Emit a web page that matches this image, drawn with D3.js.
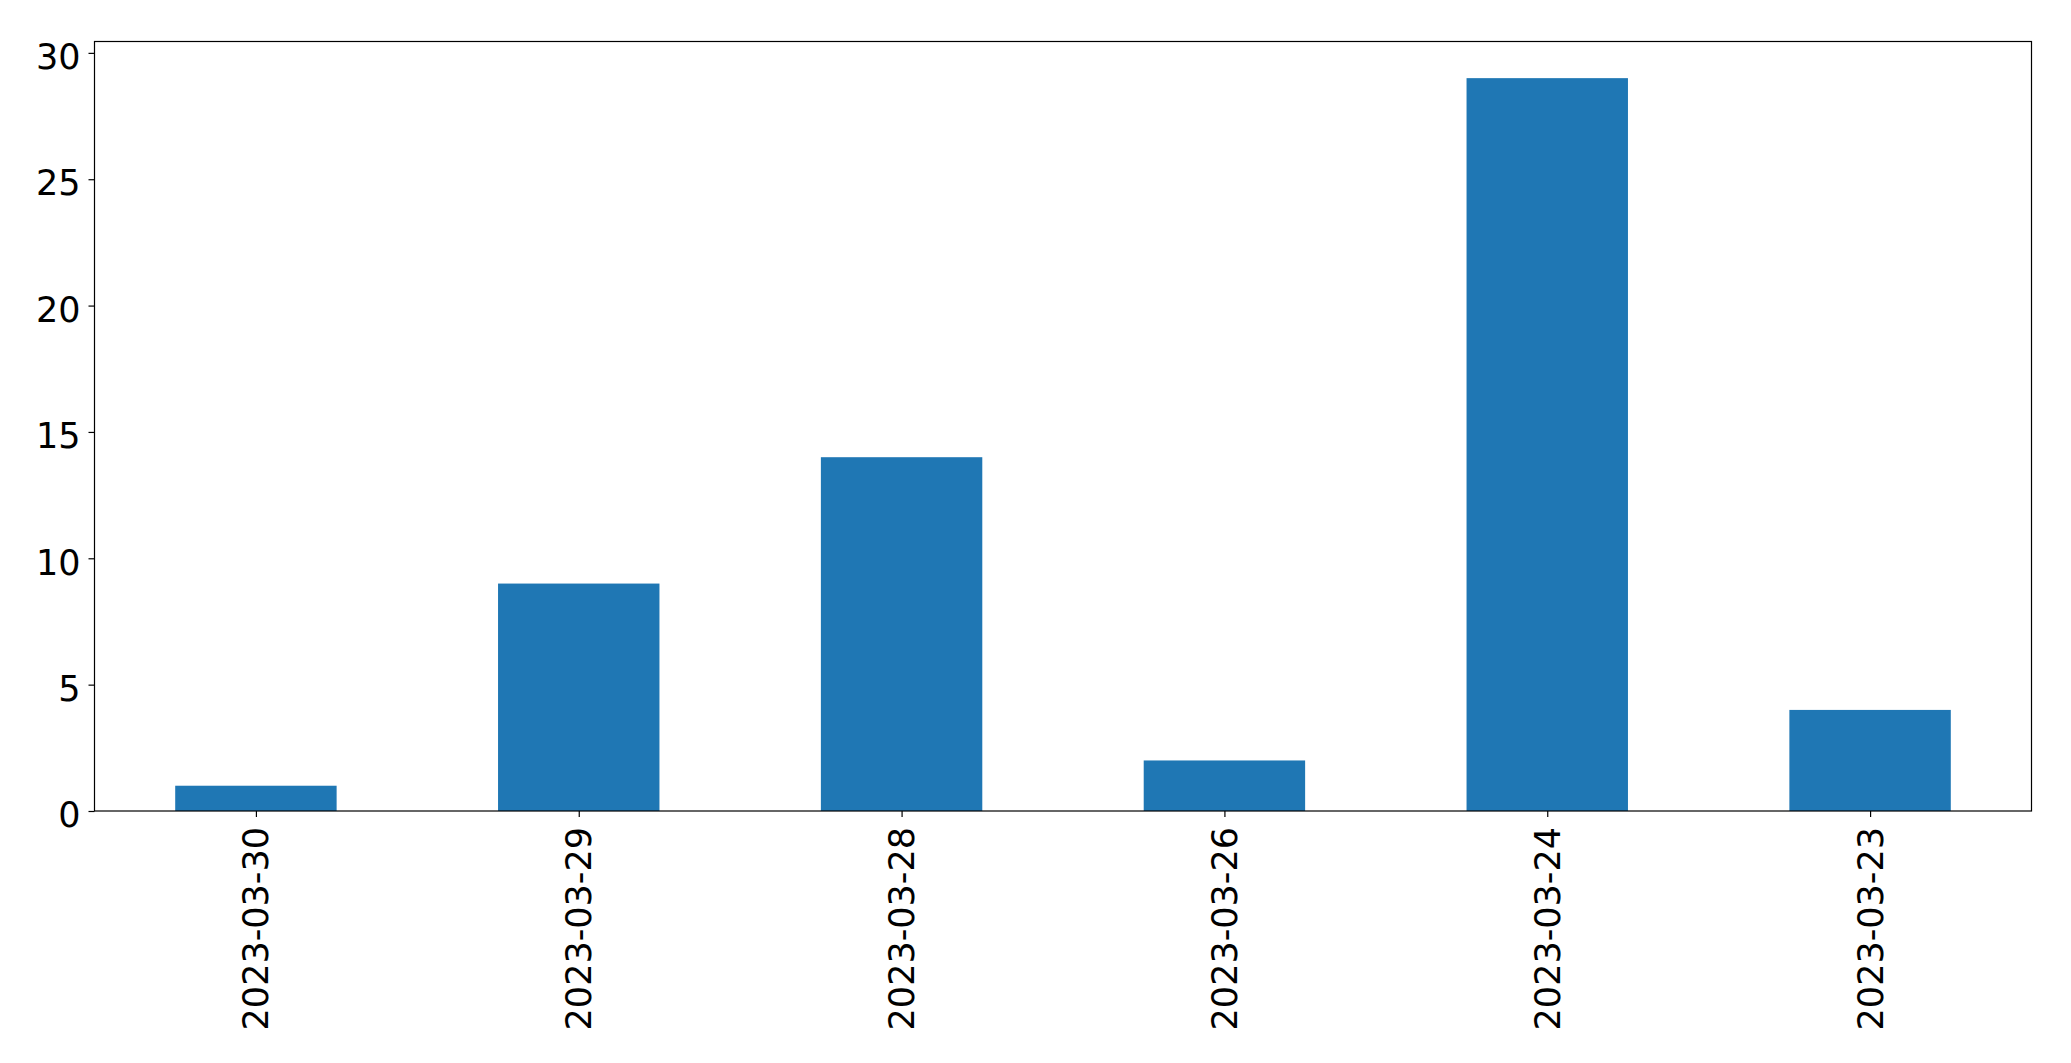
<!DOCTYPE html>
<html><head><meta charset="utf-8">
<script src="https://cdn.jsdelivr.net/npm/d3@7"></script>
<style>html,body{margin:0;padding:0;background:#fff;}svg{display:block;}</style>
</head><body>
<script>
const categories = ["2023-03-30","2023-03-29","2023-03-28","2023-03-26","2023-03-24","2023-03-23"];
const values = [1, 9, 14, 2, 29, 4];
const yTicks = [0, 5, 10, 15, 20, 25, 30];

const W = 2071, H = 1063;
const m = {left: 94.5, right: 2071 - 2031.5, top: 41.5, bottom: 1063 - 811};
const svg = d3.select("body").append("svg").attr("width", W).attr("height", H);

const x = d3.scaleLinear().domain([-0.5, categories.length - 0.5]).range([m.left, W - m.right]);
const y = d3.scaleLinear().domain([0, d3.max(values) * 1.05]).range([H - m.bottom, m.top]);
const font = "DejaVu Sans";
const fs = 35;

svg.append("g").selectAll("rect").data(values).join("rect")
  .attr("x", (d, i) => x(i - 0.25))
  .attr("width", (d, i) => x(i + 0.25) - x(i - 0.25))
  .attr("y", d => y(d))
  .attr("height", d => y(0) - y(d))
  .attr("fill", "#1f77b4");

// y axis
const ya = svg.append("g").attr("transform", `translate(${m.left},0)`)
  .call(d3.axisLeft(y).tickValues(yTicks).tickSize(6).tickPadding(8).tickFormat(d3.format("d")));
ya.select(".domain").remove();
ya.selectAll("line").attr("stroke", "#000").attr("stroke-width", 1.2);
ya.selectAll("text").attr("font-family", font).attr("font-size", fs).attr("fill", "#000").attr("dy", "0.45em");

// x axis
const xa = svg.append("g").attr("transform", `translate(0,${H - m.bottom})`)
  .call(d3.axisBottom(x).tickValues(d3.range(categories.length)).tickSize(6).tickFormat(i => categories[i]));
xa.select(".domain").remove();
xa.selectAll("line").attr("stroke", "#000").attr("stroke-width", 1.2);
xa.selectAll("text")
  .attr("font-family", font).attr("font-size", fs).attr("fill", "#000")
  .attr("text-anchor", "end")
  .attr("dy", null)
  .attr("y", 0)
  .attr("dominant-baseline", "central")
  .attr("transform", "translate(0,16) rotate(-90)");

// frame
svg.append("rect")
  .attr("x", m.left).attr("y", m.top)
  .attr("width", W - m.left - m.right).attr("height", H - m.top - m.bottom)
  .attr("fill", "none").attr("stroke", "#000").attr("stroke-width", 1.2);
</script>
</body></html>
